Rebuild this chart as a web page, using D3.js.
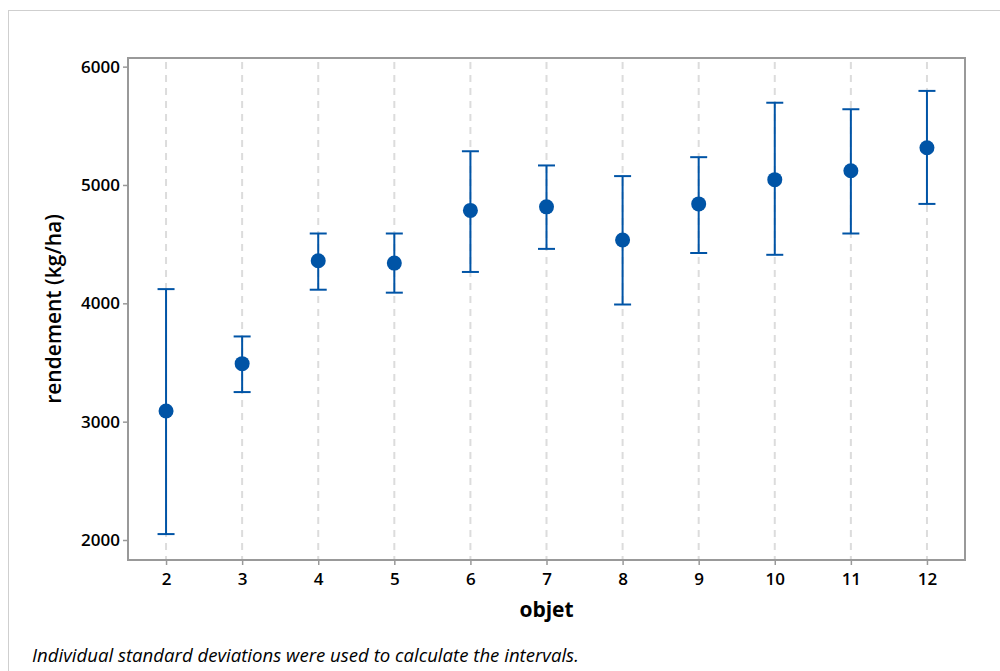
<!DOCTYPE html>
<html>
<head>
<meta charset="utf-8">
<script src="https://cdn.jsdelivr.net/npm/d3@7"></script>
<style>
  body { margin: 0; background: #fff; }
  svg text { font-family: "Open Sans", "Noto Sans", sans-serif; fill: #000; }
</style>
</head>
<body>
<div id="chart"></div>
<script>
// Interval plot - rendement par objet

// Data
const objets = [2, 3, 4, 5, 6, 7, 8, 9, 10, 11, 12];
const means = [3090, 3490, 4360, 4340, 4785, 4815, 4535, 4840, 5045, 5120, 5315];
const lowers = [2050, 3250, 4115, 4090, 4265, 4460, 3990, 4425, 4410, 4590, 4840];
const uppers = [4120, 3720, 4590, 4590, 5285, 5165, 5075, 5235, 5695, 5640, 5795];
const yTicks = [2000, 3000, 4000, 5000, 6000];

const width = 1000;
const height = 671;
const plot = { left: 128, top: 58, right: 965, bottom: 560 };
const blue = '#0054a6';

const svg = d3.select('#chart')
  .append('svg')
  .attr('width', width)
  .attr('height', height);

// outer frame
svg.append('rect')
  .attr('x', 8.5).attr('y', 10.5)
  .attr('width', 1000).attr('height', 700)
  .attr('fill', 'none')
  .attr('stroke', '#cfcfcf')
  .attr('stroke-width', 1);

const x = d3.scaleLinear()
  .domain([1.5, 12.5])
  .range([plot.left, plot.right]);

const y = d3.scaleLinear()
  .domain([1831, 6073])
  .range([plot.bottom, plot.top]);

// vertical dashed gridlines
svg.append('g')
  .selectAll('line')
  .data(objets)
  .enter()
  .append('line')
  .attr('x1', d => x(d)).attr('x2', d => x(d))
  .attr('y1', plot.top + 4).attr('y2', plot.bottom)
  .attr('stroke', '#dcdcdc')
  .attr('stroke-width', 2)
  .attr('stroke-dasharray', '7,6');

// axes
const xAxis = d3.axisBottom(x).tickValues(objets).tickFormat(d3.format('d')).tickSize(5).tickPadding(8);
const yAxis = d3.axisLeft(y).tickValues(yTicks).tickFormat(d3.format('d')).tickSize(5).tickPadding(3);

const gx = svg.append('g')
  .attr('transform', `translate(0,${plot.bottom})`)
  .call(xAxis);
const gy = svg.append('g')
  .attr('transform', `translate(${plot.left},0)`)
  .call(yAxis);

[gx, gy].forEach(g => {
  g.select('.domain').remove();
  g.selectAll('.tick line').attr('stroke', '#999').attr('stroke-width', 1.5);
  g.selectAll('.tick text')
    .style('font-size', '17px')
    .style('font-weight', '600')
    .attr('fill', '#000');
});

// plot box
svg.append('rect')
  .attr('x', plot.left).attr('y', plot.top)
  .attr('width', plot.right - plot.left)
  .attr('height', plot.bottom - plot.top)
  .attr('fill', 'none')
  .attr('stroke', '#999')
  .attr('stroke-width', 2);

// intervals
const rows = objets.map((o, i) => ({ o, mean: means[i], lo: lowers[i], hi: uppers[i] }));
const capHalf = 8.5;

const bars = svg.append('g')
  .selectAll('g')
  .data(rows)
  .enter()
  .append('g');

bars.append('line')
  .attr('x1', d => x(d.o)).attr('x2', d => x(d.o))
  .attr('y1', d => y(d.lo)).attr('y2', d => y(d.hi))
  .attr('stroke', blue).attr('stroke-width', 2);

bars.append('line')
  .attr('x1', d => x(d.o) - capHalf).attr('x2', d => x(d.o) + capHalf)
  .attr('y1', d => y(d.hi)).attr('y2', d => y(d.hi))
  .attr('stroke', blue).attr('stroke-width', 2);

bars.append('line')
  .attr('x1', d => x(d.o) - capHalf).attr('x2', d => x(d.o) + capHalf)
  .attr('y1', d => y(d.lo)).attr('y2', d => y(d.lo))
  .attr('stroke', blue).attr('stroke-width', 2);

bars.append('circle')
  .attr('cx', d => x(d.o))
  .attr('cy', d => y(d.mean))
  .attr('r', 7.5)
  .attr('fill', blue);

// axis titles
svg.append('text')
  .attr('x', (plot.left + plot.right) / 2)
  .attr('y', 617)
  .attr('text-anchor', 'middle')
  .style('font-size', '21px')
  .style('font-weight', '700')
  .text('objet');

svg.append('text')
  .attr('transform', `translate(61,${(plot.top + plot.bottom) / 2}) rotate(-90)`)
  .attr('text-anchor', 'middle')
  .style('font-size', '21px')
  .style('font-weight', '600')
  .text('rendement (kg/ha)');

// footnote
svg.append('text')
  .attr('x', 32)
  .attr('y', 662)
  .style('font-size', '18.6px')
  .style('font-style', 'italic')
  .text('Individual standard deviations were used to calculate the intervals.');
</script>
</body>
</html>
